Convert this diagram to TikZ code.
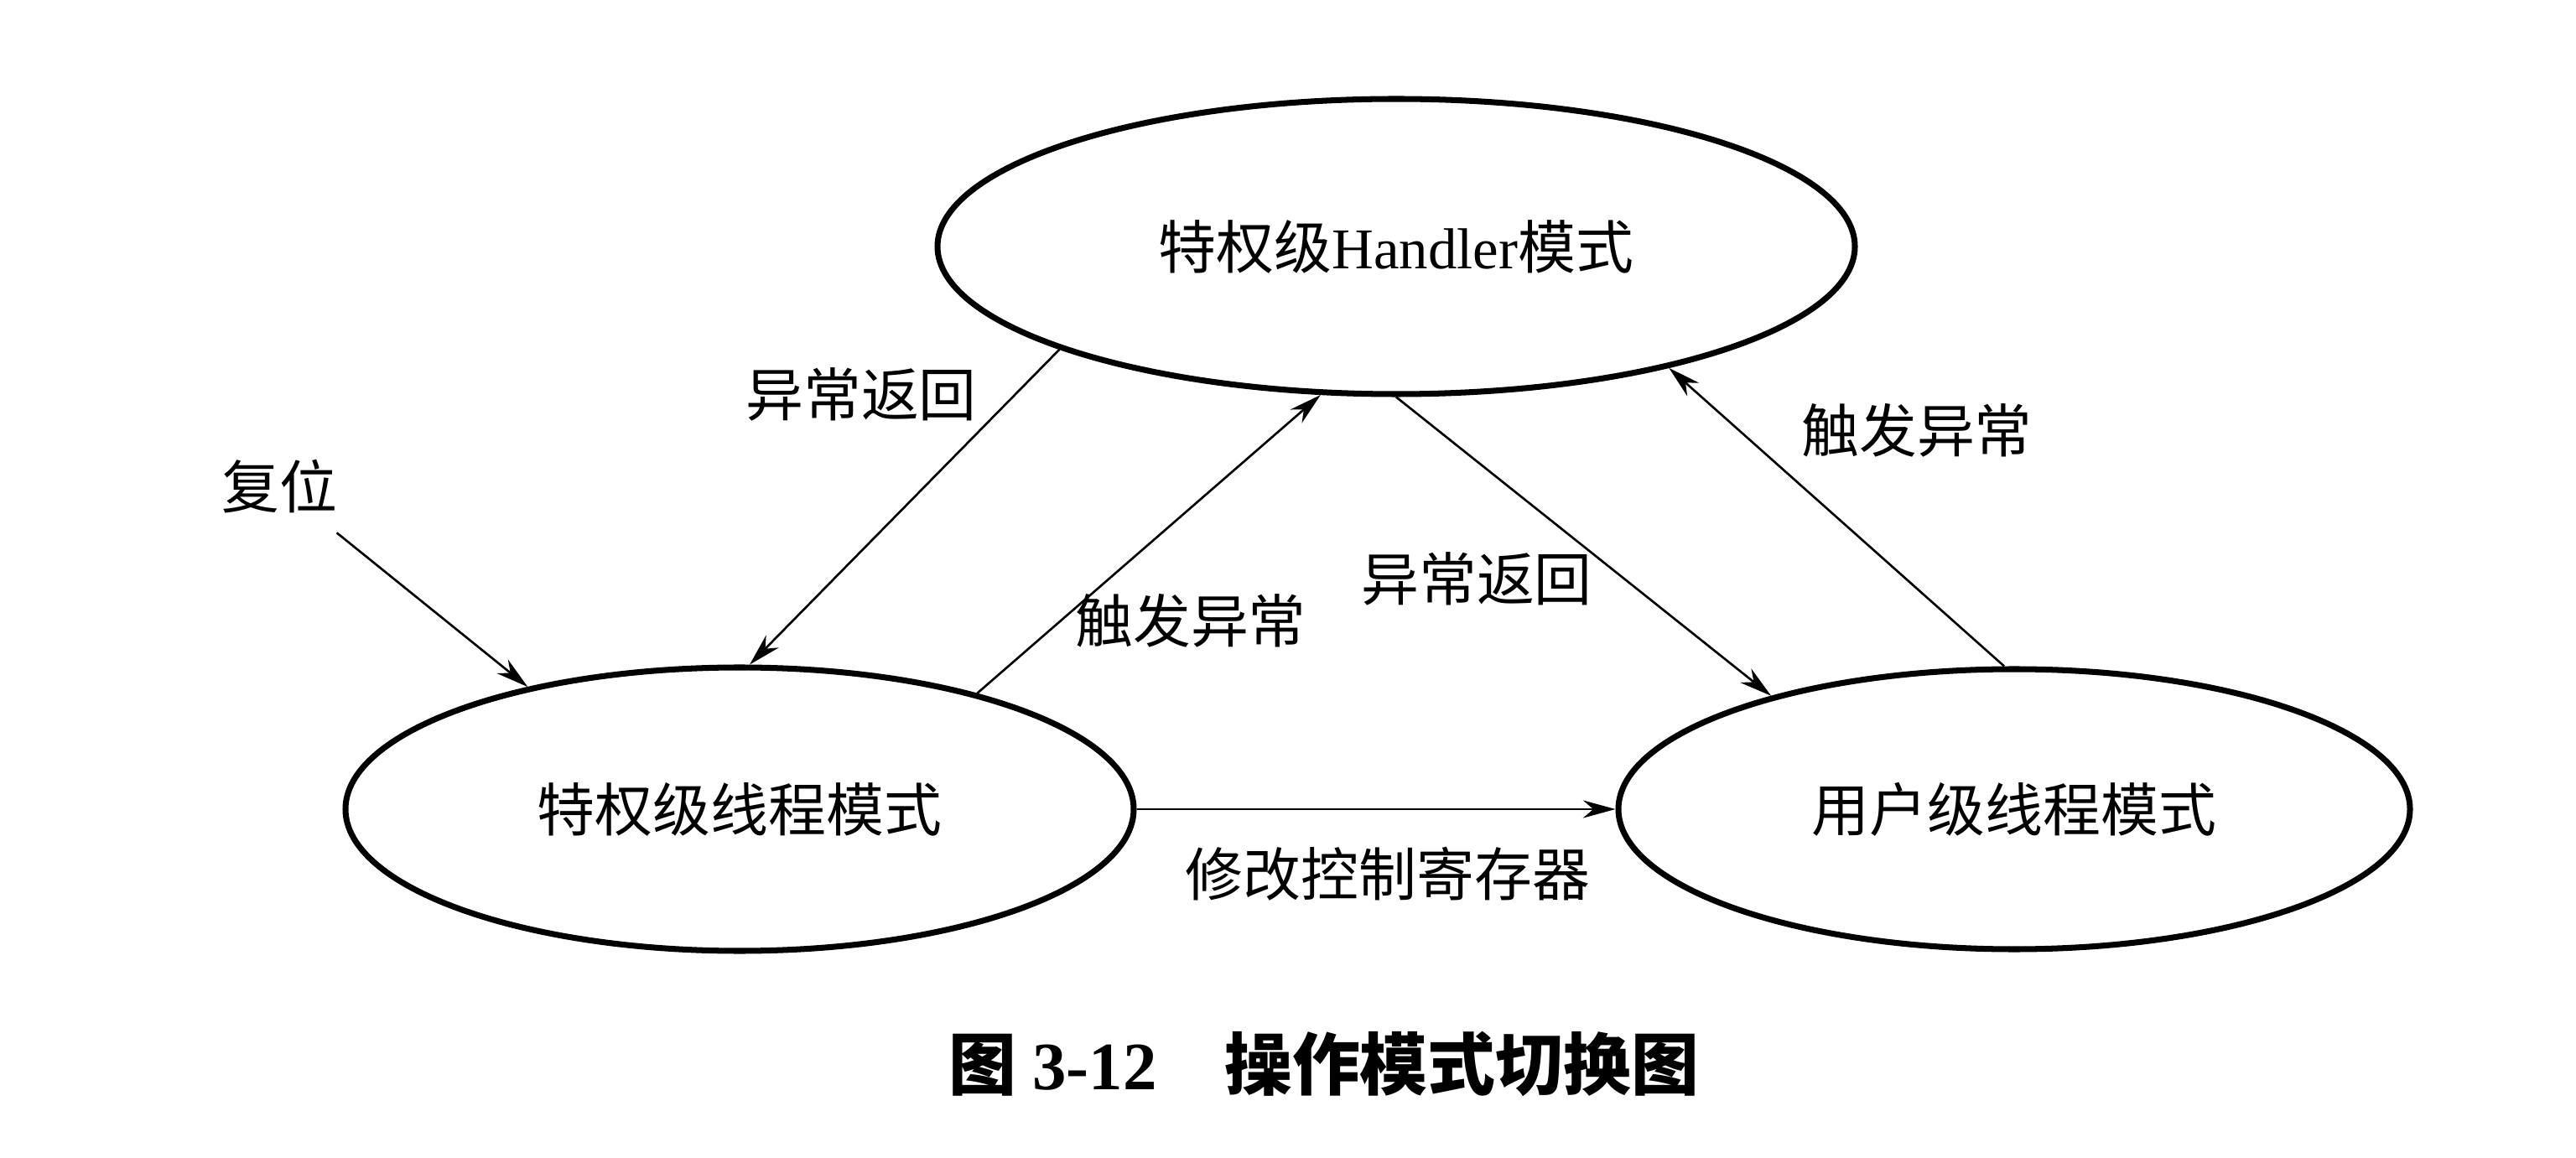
\documentclass[tikz,border=0pt]{standalone}
\usepackage{fontspec}
\setmainfont{Liberation Serif}
\newfontfamily\cjk{Noto Sans CJK SC}
\usetikzlibrary{shapes.geometric,arrows.meta}
\begin{document}
\begin{tikzpicture}[
  mode/.style={ellipse,draw,line width=2pt,inner sep=0pt},
  lbl/.style={font=\fontsize{19.6}{24}\selectfont\cjk},
  arr/.style={-{Stealth[length=11pt,width=6pt,inset=3.5pt]},line width=0.75pt}
]
\useasboundingbox (0,0) rectangle (30.72,-13.81);

% the three modes
\node[mode,lbl,minimum width=10.94cm,minimum height=3.52cm] (hd) at (16.65,-2.94) {特权级{\rmfamily Handler}模式};
\node[mode,lbl,minimum width=9.40cm,minimum height=3.38cm] (pt) at (8.82,-9.65) {特权级线程模式};
\node[mode,lbl,minimum width=9.44cm,minimum height=3.34cm] (ut) at (24.02,-9.65) {用户级线程模式};

\draw[arr] (hd.197.7) -- (pt.86);
\draw[arr] (pt.26) -- (hd.243);
\draw[arr] (hd.270) -- (ut.155);
\draw[arr] (ut.94) -- (hd.336.6);
\draw[arr] (pt.east) -- (ut.west);

\node[lbl] (reset) at (3.33,-5.80) {复位};
\draw[arr,shorten <=5pt] (reset) -- (pt.150);

\node[lbl] (ret1) at (10.27,-4.70) {异常返回};
\node[lbl] (exc1) at (14.20,-7.40) {触发异常};
\node[lbl] (ret2) at (17.61,-6.90) {异常返回};
\node[lbl] (exc2) at (22.86,-5.13) {触发异常};
\node[lbl] (ctrl) at (16.55,-10.42) {修改控制寄存器};

\node[font=\fontsize{23}{28}\selectfont\cjk\bfseries] (cap) at (15.79,-12.69) {图 {\rmfamily\bfseries 3-12}\quad 操作模式切换图};
\end{tikzpicture}
\end{document}
